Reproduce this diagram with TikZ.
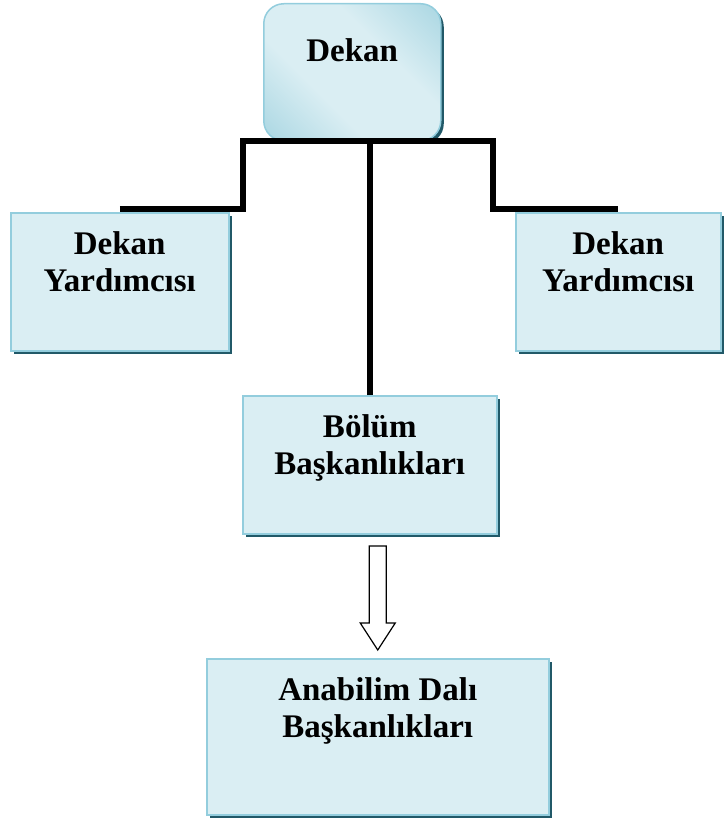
\documentclass[tikz,border=0pt]{standalone}
\usepackage{fontspec}
\setmainfont{Liberation Serif}
\usetikzlibrary{shadows}
\definecolor{kutumavi}{RGB}{218,238,243}
\definecolor{kenarmavi}{RGB}{147,205,221}
\definecolor{koyumavi}{RGB}{140,200,216}
\definecolor{golge}{RGB}{33,89,104}
\pgfdeclarehorizontalshading{dekangolge}{100bp}{color(0bp)=(koyumavi); color(38bp)=(kutumavi);
     color(62bp)=(kutumavi); color(100bp)=(koyumavi)}
\tikzset{
     kutu/.style={rectangle, fill=kutumavi, draw=kenarmavi, line width=1.5pt,
          anchor=north west, drop shadow={shadow xshift=3pt, shadow yshift=-3pt, fill=golge, opacity=1}},
     dekankutu/.style={kutu, rounded corners=20pt, shading=dekangolge, shading angle=45},
     yazi/.style={anchor=north, align=center, inner sep=0pt, font=\bfseries\fontsize{33}{37}\selectfont},
     baglanti/.style={line width=6.5pt, black},
     bosok/.style={draw=black, fill=white, line width=1.2pt, line join=miter},
}
\def\yk{138}

\begin{document}
\begin{tikzpicture}[x=1pt, y=-1pt]
    \useasboundingbox (0,0) rectangle (723,821);

    % ust kutu
    \node[dekankutu, minimum width=177, minimum height=137] (dekan) at (263,3) {};
    \node[yazi] (dekanyazi) at ([yshift=-35pt]dekan.north) {Dekan};

    % yardimcilar
    \foreach \x/\w/\n in {10/218/yrd1, 515/205/yrd2}{
        \node[kutu, minimum width=\w, minimum height=\yk] (\n) at (\x,212) {};
        \node[yazi] (\n yazi) at ([yshift=-19pt]\n.north) {Dekan\\Yard\i mc\i s\i};
    }

    \node[kutu, minimum width=254, minimum height=\yk] (bolum) at (242,395) {};
    \node[yazi] (bolumyazi) at ([yshift=-19pt]bolum.north) {Bölüm\\Başkanlıkları};

    \node[kutu, minimum width=342, minimum height=156] (anabilim) at (206,658) {};
    \node[yazi] (anabilimyazi) at ([yshift=-19pt]anabilim.north) {Anabilim Dalı\\Başkanlıkları};

    % baglantilar
    \coordinate (sol) at (243,141);
    \coordinate (sag) at (493,141);
    \draw[baglanti] ([yshift=3pt]yrd1.north) -| (sol) -- (sag) |- ([yshift=3pt]yrd2.north);
    \draw[baglanti] (bolum.north) -- (bolum.north |- dekan.south);

    % bos ok
    \coordinate (okucu) at ([yshift=8pt]anabilim.north);
    \draw[bosok] (okucu) -- ++(-17.5,-27) -- ++(9,0) -- ++(0,-77) -- ++(17,0)
         -- ++(0,77) -- ++(9,0) -- cycle;
\end{tikzpicture}
\end{document}
